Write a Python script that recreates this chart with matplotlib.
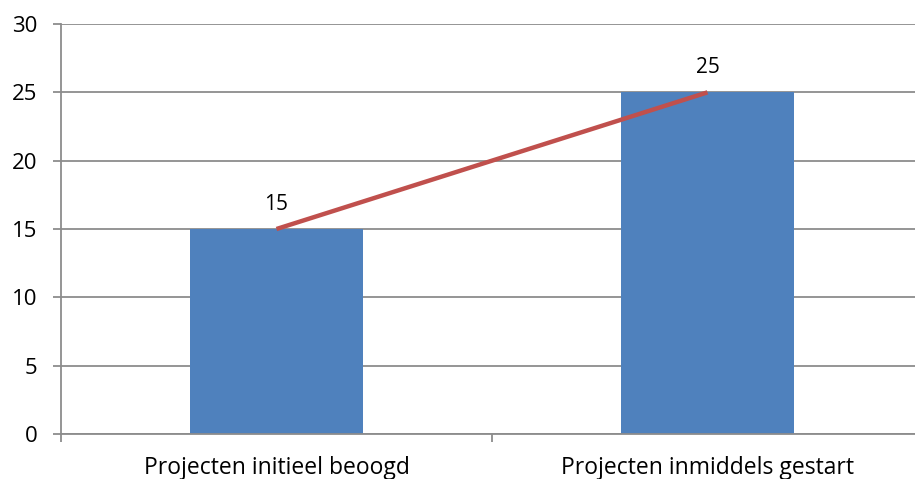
import matplotlib.pyplot as plt

categories = ['Projecten initieel beoogd', 'Projecten inmiddels gestart']
values = [15, 25]
y_ticks = [0, 5, 10, 15, 20, 25, 30]

plt.rcParams['font.family'] = ['Open Sans', 'DejaVu Sans']

fig = plt.figure(figsize=(9.15, 4.79), dpi=100)
ax = fig.add_axes([61 / 915, 45 / 479, 862 / 915, 410 / 479])

x = list(range(len(categories)))
grid_col = '#8c8c8c'
fs = 16

ax.bar(x, values, width=0.4, color='#4F81BD', zorder=2)
ax.plot(x, values, color='#C0504D', linewidth=3.2, zorder=3, solid_capstyle='butt')

for xi, v in zip(x, values):
    ax.annotate(str(v), (xi, v), xytext=(0, 10), textcoords='offset points',
                ha='center', va='bottom', fontsize=fs - 1, color='black')

ax.set_xlim(-0.5, 1.5)
ax.set_ylim(0, 30)
ax.set_yticks(y_ticks)
ax.yaxis.grid(True, color=grid_col, linewidth=1.3, zorder=0)
ax.set_axisbelow(True)

# category ticks sit between categories, labels at the centres
ax.set_xticks([-0.5, 0.5, 1.5])
ax.set_xticklabels([])
ax.set_xticks(x, minor=True)
ax.set_xticklabels(categories, minor=True, fontsize=fs + 0.5)
ax.tick_params(axis='x', which='minor', length=0, pad=16)
ax.tick_params(axis='x', which='major', length=6, color=grid_col, width=1.3)
ax.tick_params(axis='y', length=6, color=grid_col, width=1.3, labelsize=fs, pad=11)

for side in ['top', 'right']:
    ax.spines[side].set_visible(False)
for side in ['left', 'bottom']:
    ax.spines[side].set_color(grid_col)
    ax.spines[side].set_linewidth(1.3)

fig.savefig('out.png', dpi=100)
